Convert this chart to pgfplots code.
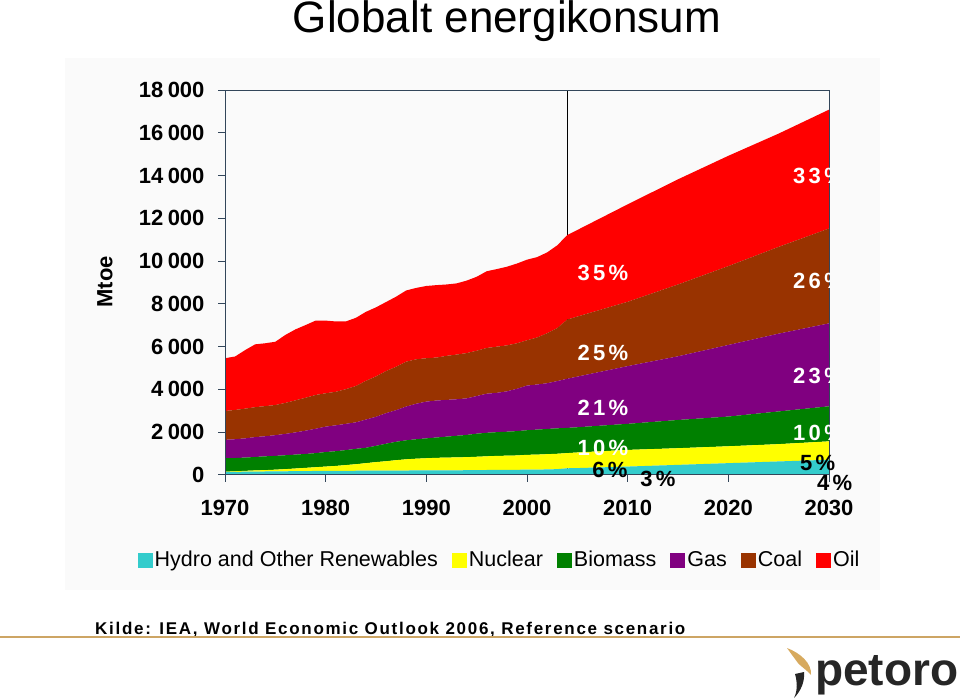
\documentclass[border=0pt]{standalone}
\usepackage{pgfplots}
\pgfplotsset{compat=1.18}
\usepackage{pgfplotstable}
\usepackage{fontspec}
\setmainfont{Liberation Sans}
\newfontfamily\pctfont{Liberation Sans}[LetterSpace=15]
\newfontfamily\footfont{Liberation Sans}[LetterSpace=10]
\newcommand\fs[1]{\fontsize{#1}{#1}\selectfont}
\definecolor{hydro}{HTML}{33CCCC}
\definecolor{nuclear}{HTML}{FFFF00}
\definecolor{biomass}{HTML}{008000}
\definecolor{gas}{HTML}{800080}
\definecolor{coal}{HTML}{993300}
\definecolor{oil}{HTML}{FF0000}
\definecolor{axiscol}{RGB}{50,70,90}
\definecolor{tanline}{RGB}{205,165,100}
\definecolor{logotan}{RGB}{215,170,95}

\pgfplotstableread{
year H N B Ga Co O
1970 130 10 630 860 1350 2470
1971 135 25 620 880 1370 2500
1972 140 40 620 900 1390 2740
1973 145 55 630 930 1400 2940
1974 150 65 645 940 1410 2940
1975 155 80 645 970 1410 2960
1976 160 100 650 1000 1450 3180
1977 165 125 650 1040 1500 3320
1978 170 150 650 1090 1540 3400
1979 175 175 660 1140 1580 3480
1980 180 200 680 1190 1560 3400
1981 180 230 690 1210 1570 3290
1982 180 270 700 1230 1620 3170
1983 185 305 720 1240 1700 3190
1984 185 355 720 1320 1810 3230
1985 190 400 760 1360 1890 3230
1986 190 440 820 1430 1970 3230
1987 195 485 860 1480 2030 3280
1988 195 525 890 1580 2100 3330
1989 200 550 910 1660 2080 3340
1990 200 570 930 1720 2030 3380
1991 200 590 950 1730 2010 3390
1992 205 595 980 1720 2060 3340
1993 205 605 1010 1710 2090 3330
1994 210 610 1040 1710 2120 3390
1995 215 625 1080 1760 2120 3460
1996 220 640 1100 1830 2140 3590
1997 220 660 1110 1840 2160 3630
1998 225 665 1120 1890 2150 3680
1999 230 670 1140 1980 2130 3730
2000 235 695 1150 2090 2120 3770
2001 240 700 1170 2110 2200 3760
2002 245 715 1180 2140 2340 3780
2003 260 720 1190 2210 2480 3870
2004 300 710 1180 2300 2770 3950
2005 310 730 1180 2370 2810 4050
2010 380 780 1220 2700 3010 4560
2015 460 780 1320 2980 3360 4920
2020 540 790 1390 3350 3690 5160
2025 620 810 1530 3640 4060 5300
2030 700 860 1640 3880 4440 5560
}\energy

\begin{document}
\begin{tikzpicture}[x=1pt,y=1pt]
\path[use as bounding box] (0,0) rectangle (960,699);
\fill[black!2] (65,109) rectangle (880,641);
\node[anchor=base, inner sep=0] at (507,666) {\fs{44}Globalt energikonsum};
\begin{axis}[
  at={(225pt,224.3pt)}, anchor=south west,
  scale only axis, width=604pt, height=384.7pt,
  xmin=1970, xmax=2030, ymin=0, ymax=18000,
  stack plots=y, area style,
  xtick={1970,1980,...,2030},
  ytick={0,2000,...,18000},
  scaled y ticks=false, scaled x ticks=false,
  xtick pos=bottom, ytick pos=left,
  tick align=outside, major tick length=7pt,
  axis line style={color=axiscol, line width=0.9pt},
  tick style={color=axiscol, line width=0.9pt},
  /pgf/number format/assume math mode=true,
  x tick label style={font=\bfseries\fs{22}, /pgf/number format/1000 sep={}, yshift=-15pt},
  y tick label style={font=\bfseries\fs{22}, /pgf/number format/1000 sep={\hspace{0.2em}}, xshift=-10pt},
  ylabel={Mtoe},
  ylabel style={font=\bfseries\fs{22}, at={(axis description cs:-0.199,0.501)}, anchor=center, rotate=0},
  legend columns=6,
  legend style={at={(0.4545,-0.2243)}, anchor=center, draw=none, fill=none,
    font=\fs{21.5}, /tikz/every even column/.append style={column sep=12pt},
    nodes={inner sep=2pt, text height=15.5pt, text depth=4.5pt}},
  legend image code/.code={\fill[#1] (0pt,-7.5pt) rectangle (15pt,7.5pt);},
]
\addplot[fill=hydro, draw=none] table[x=year, y=H] {\energy} \closedcycle;
\addplot[fill=nuclear, draw=none] table[x=year, y=N] {\energy} \closedcycle;
\addplot[fill=biomass, draw=none] table[x=year, y=B] {\energy} \closedcycle;
\addplot[fill=gas, draw=none] table[x=year, y=Ga] {\energy} \closedcycle;
\addplot[fill=coal, draw=none] table[x=year, y=Co] {\energy} \closedcycle;
\addplot[fill=oil, draw=none] table[x=year, y=O] {\energy} \closedcycle;
\legend{Hydro and Other Renewables, Nuclear, Biomass, Gas, Coal, Oil}
\draw[black, line width=0.9pt] (axis cs:2004,0) -- (axis cs:2004,18000);
\end{axis}
% percentage labels
\begin{scope}[every node/.style={inner sep=0, font=\pctfont\bfseries\fs{22}}]
\node[text=white] at (603,426.5) {35\%};
\node[text=white] at (603,346.5) {25\%};
\node[text=white] at (603,291.5) {21\%};
\node[text=white] at (603,251.5) {10\%};
\node[text=black] at (610,229) {6\%};
\node[text=black] at (658,220) {3\%};
\begin{scope}
\clip (225,224.3) rectangle (829.5,609);
\node[text=white, anchor=west] at (793,523.5) {33\%};
\node[text=white, anchor=west] at (793,418.5) {26\%};
\node[text=white, anchor=west] at (793,323.5) {23\%};
\node[text=white, anchor=west] at (793,266.5) {10\%};
\end{scope}
\node[text=black, anchor=west] at (800,236) {5\%};
\node[text=black, anchor=west] at (817,216) {4\%};
\end{scope}
% footer
\node[anchor=base west, inner sep=0] at (95,65) {\footfont\bfseries\fs{17}Kilde: IEA, World Economic Outlook 2006, Reference scenario};
\draw[tanline, line width=1.5pt] (0,62) -- (960,62);
% logo
\fill[logotan] (787,51) .. controls (800,46) and (812,36) .. (811,24) .. controls (806,30) and (798,34) .. (795,40) .. controls (792,44) .. (787,51) -- cycle;
\fill[black!85] (804,27) .. controls (805,18) and (801,8) .. (794,1) .. controls (798,9) and (797,18) .. (795,25) -- cycle;
\node[anchor=base west, inner sep=0, text=black!85] at (815,14) {\bfseries\fs{46}petoro};
\end{tikzpicture}
\end{document}
